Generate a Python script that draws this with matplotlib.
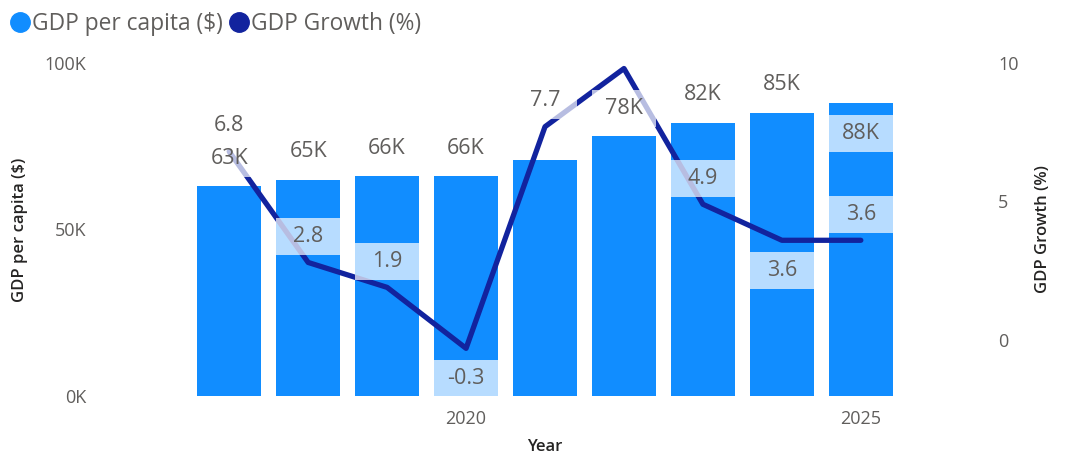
import matplotlib.pyplot as plt
from matplotlib.lines import Line2D
from matplotlib.patches import Rectangle
from matplotlib.ticker import FuncFormatter

plt.rcParams['font.family'] = ['Open Sans', 'DejaVu Sans']

# --- datos ---
years = [2017, 2018, 2019, 2020, 2021, 2022, 2023, 2024, 2025]
gdp_per_capita_k = [63, 65, 66, 66, 71, 78, 82, 85, 88]
gdp_growth = [6.8, 2.8, 1.9, -0.3, 7.7, 9.8, 4.9, 3.6, 3.6]

# ubicacion de etiquetas (None = oculta)
bar_label_pos = ['above', 'above', 'above', 'above', None, 'above', 'above', 'above', 'inside']
growth_label_pos = ['above', 'above', 'above', 'below', 'above', None, 'above', 'below', 'above']

bar_color = '#118DFF'
line_color = '#12239E'
label_color = '#605E5C'
title_color = '#252423'

fig = plt.figure(figsize=(10.67, 4.58), dpi=100)
ax = fig.add_axes([0.1031, 0.1354, 0.8154, 0.7271])
ax2 = ax.twinx()

BAR_W = 0.81
ax.bar(years, [v * 1000 for v in gdp_per_capita_k], width=BAR_W, color=bar_color, zorder=2)
ax2.plot(years, gdp_growth, color=line_color, lw=3.8, solid_capstyle='round', zorder=3)

ax.set_xlim(2015.49, 2026.51)
ax.set_ylim(0, 100000)
ax2.set_ylim(-2.02, 10)

ax.set_xticks([2020, 2025])
ax.set_yticks([0, 50000, 100000])
ax.yaxis.set_major_formatter(FuncFormatter(lambda v, p: f'{int(v / 1000)}K'))
ax2.set_yticks([0, 5, 10])

for a in (ax, ax2):
    for s in a.spines.values():
        s.set_visible(False)
    a.tick_params(length=0, labelsize=13, labelcolor=label_color)
ax.tick_params(axis='x', pad=10)
ax.tick_params(axis='y', pad=17)
ax2.tick_params(axis='y', pad=13)

ax.set_xlabel('Year', fontsize=12, color=title_color, fontweight='semibold')
ax.set_ylabel('GDP per capita ($)', fontsize=12, color=title_color, fontweight='semibold')
ax2.set_ylabel('GDP Growth (%)', fontsize=12, color=title_color, fontweight='semibold',
               rotation=90)
ax.xaxis.set_label_coords(0.5, -0.13)
ax.yaxis.set_label_coords(-0.094, 0.5)
ax2.yaxis.set_label_coords(1.063, 0.5)

# px por unidad del eje derecho (para alto de cajas)
box_h_px = 37
ax2_px_per_unit = ax2.bbox.height / (ax2.get_ylim()[1] - ax2.get_ylim()[0])


def add_label(x, y, text, src, dy):
    xd, yd = src.transData.transform((x, y))
    xl, yl = ax2.transData.inverted().transform((xd, yd + dy))
    h = box_h_px / ax2_px_per_unit
    ax2.add_patch(Rectangle((xl - BAR_W / 2, yl - h / 2), BAR_W, h, facecolor='white',
                            alpha=0.7, lw=0, zorder=4))
    ax2.text(xl, yl, text, ha='center', va='center', fontsize=15.5, color=label_color,
             zorder=5)


for x, v, pos in zip(years, gdp_per_capita_k, bar_label_pos):
    if pos is None:
        continue
    dy = 28 if pos == 'above' else -31
    add_label(x, v * 1000, f'{v}K', ax, dy)

for x, g, pos in zip(years, gdp_growth, growth_label_pos):
    if pos is None:
        continue
    dy = 26 if pos == 'above' else -30
    add_label(x, g, f'{g:.1f}', ax2, dy)

ax2.set_ylim(-2.02, 10)

handles = [
    Line2D([], [], marker='o', ls='none', color=bar_color, markersize=14),
    Line2D([], [], marker='o', ls='none', color=line_color, markersize=14),
]
fig.legend(handles, ['GDP per capita ($)', 'GDP Growth (%)'], loc='upper left',
           bbox_to_anchor=(-0.011, 1.018), ncol=2, frameon=False, fontsize=16.4,
           handlelength=0.95, handletextpad=0.05, columnspacing=0.25, labelcolor=label_color)

fig.savefig('out.png', dpi=100)
